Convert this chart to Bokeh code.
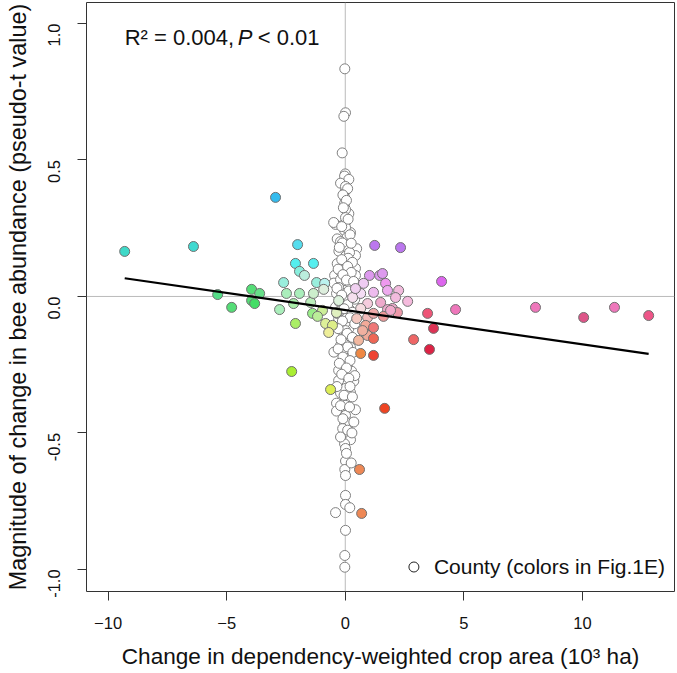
import math
from bokeh.plotting import figure
from bokeh.models import Range1d, FixedTicker, Span, Label, Legend, LegendItem, NumeralTickFormatter, ColumnDataSource
from bokeh.embed import file_html
from bokeh.resources import INLINE

# ---------------- data ----------------
# counties without a colour class (white points)
white_x = [-0.02, 0.01, -0.06, -0.13, 0.00, -0.03, 0.15, -0.20, 0.00, -0.03,
           -0.03, 0.15, -0.41, 0.01, -0.03, 0.22, -0.34, 0.08, 0.01, 0.01,
           0.48, 0.43, -0.27, 0.01, -0.34, 0.01, 0.43, -0.45, 0.01, 0.43,
           -0.06, -0.48, -0.20, 0.22, -0.06, -0.37, 0.31, 0.01, 0.36, -0.41,
           0.01, -0.20, 0.15, -0.06, -0.28, 0.31, -0.48, 0.15, -0.13, 0.08,
           0.27, -0.08, 0.36, -0.06, -0.20, 0.01, -0.37, -0.37, 0.43, 0.01,
           -0.03, 0.18, 0.36, -0.03, 0.01, 0.22, -0.03, 0.01, -0.02, 0.01,
           0.01, 0.01, 0.19, -0.41, 0.01, -0.02, -0.02, 0.01, -0.20, 0.22,
           0.01, -0.28, 0.01, -0.11, 0.01, 0.01, 0.01, 0.01, -0.20, 0.18,
           -0.20, 0.18, -0.28, 0.01, 0.18, -0.20, 0.01, 0.01, 0.22, -0.07,
           0.01, -0.28, 0.22, 0.01, -0.49,
           0.10, -0.10, 0.05, -0.08, 0.12, -0.15, 0.20, -0.12, 0.25, -0.25,
           0.12, -0.15, 0.30, -0.30, 0.10, 0.25, -0.10, 0.05, 0.35, -0.35,
           0.15, -0.15, 0.40, -0.25, 0.10, -0.05, 0.30, -0.35, 0.20, -0.12,
           0.40, -0.30, 0.08, 0.30, -0.18, 0.10, -0.30, 0.32, -0.10, 0.20,
           -0.25, 0.05, 0.40, -0.15, 0.15, -0.35, 0.20, -0.05, 0.30, -0.20,
           0.18, -0.10, 0.10, 0.28, -0.20, 0.05, 0.25]
white_y = [0.834, 0.673, 0.660, 0.526, 0.449, 0.441, 0.429, 0.415, 0.386, 0.363,
           0.340, 0.303, 0.264, 0.272, 0.242, 0.234, 0.211, 0.217, 0.190, 0.175,
           0.175, 0.150, 0.166, 0.147, 0.120, 0.126, 0.103, 0.077, 0.101, 0.077,
           0.052, 0.049, 0.062, 0.040, 0.022, 0.011, 0.007, -0.021, -0.033, -0.039,
           -0.070, -0.106, -0.118, -0.143, -0.081, -0.088, -0.204, -0.212, -0.241, -0.253,
           -0.274, -0.296, -0.310, -0.320, -0.354, -0.375, -0.391, -0.420, -0.415, -0.436,
           -0.464, -0.464, -0.460, -0.503, -0.521, -0.525, -0.540, -0.603, -0.634, -0.656,
           -0.729, -0.762, -0.774, -0.792, -0.857, -0.949, -0.992, -0.168, -0.179, -0.187,
           -0.337, -0.271, -0.399, -0.484, 0.403, 0.319, 0.289, 0.253, 0.201, 0.161,
           0.092, 0.073, 0.033, 0.000, -0.048, -0.051, -0.095, -0.125, -0.147, -0.198,
           -0.227, -0.308, -0.352, -0.557, 0.271,
           0.395, 0.372, 0.352, 0.325, 0.283, 0.256, 0.226, 0.196, 0.195, 0.180,
           0.140, 0.135, 0.125, 0.100, 0.110, 0.088, 0.080, 0.060, 0.055, 0.030,
           0.020, 0.005, -0.010, -0.020, -0.030, -0.045, -0.058, -0.062, -0.078, -0.090,
           -0.100, -0.118, -0.135, -0.150, -0.158, -0.185, -0.192, -0.205, -0.222, -0.235,
           -0.245, -0.262, -0.290, -0.285, -0.300, -0.330, -0.330, -0.362, -0.368, -0.400,
           -0.405, -0.448, -0.490, -0.500, -0.515, -0.575, -0.610]

# counties with a colour class (colours as in Fig. 1E)
colored_x = [-9.30, -6.40, -2.94, -2.01, -2.10, -1.93, -1.34, -1.21, -0.87, -2.60,
             -5.38, -4.79, -3.95, -3.61, -3.95, -3.82, -2.77, -2.48, -2.18, -1.93,
             -1.46, -1.38, -2.10, -2.26, -0.62, -1.34, -0.96, -0.83, -0.54, -0.70,
             -0.91, -1.72, -1.17, 1.24, 2.33, 4.06, 1.02, 1.45, 0.77, 1.70,
             1.57, 1.78, 0.65, 1.19, 2.25, 2.63, 2.12, 0.94, 1.49, 1.99,
             1.78, 2.20, 0.65, 0.94, 1.19, 1.61, 0.86, 0.94, 1.19, 1.19,
             0.65, 1.19, 2.88, 3.47, 3.72, 3.55, 4.65, 8.02, 10.05, 11.35,
             12.79, 1.66, 0.60, 0.69, 1.91, -0.28, 0.31, 0.43, -0.37, 0.48,
             0.56, 0.73]
colored_y = [0.165, 0.183, 0.363, 0.190, 0.121, 0.092, 0.121, 0.051, 0.048, 0.051,
             0.007, -0.040, 0.026, 0.011, -0.015, -0.026, -0.048, 0.011, -0.026, 0.011,
             -0.022, -0.062, -0.099, -0.275, -0.341, 0.011, -0.051, -0.099, -0.106, -0.132,
             0.026, 0.077, -0.073, 0.187, 0.179, 0.055, 0.077, 0.077, 0.048, 0.048,
             0.084, 0.022, 0.011, 0.015, 0.022, -0.018, -0.004, -0.026, -0.022, -0.044,
             -0.048, -0.059, -0.044, -0.077, -0.062, -0.073, -0.106, -0.143, -0.114, -0.154,
             -0.209, -0.216, -0.158, -0.062, -0.117, -0.194, -0.048, -0.040, -0.077, -0.040,
             -0.070, -0.410, -0.634, -0.795, -0.051, -0.015, -0.004, 0.029, -0.059, -0.081,
             -0.161, -0.125]
colored_fill = ["#3fd9c8", "#40d9d0", "#33bbee", "#55ddee", "#55eeee", "#88eedd", "#55eeee", "#99eedd", "#bbf2ee", "#99eedd",
                "#55dd88", "#55dd77", "#55dd77", "#66dd88", "#55dd77", "#44dd66", "#aaeebb", "#aaeebb", "#aaeeaa", "#aaeebb",
                "#bbeebb", "#99ee88", "#aaee66", "#aaee33", "#ddee55", "#cceecc", "#ccee99", "#ddf099", "#ddee88", "#eeee99",
                "#ddeedd", "#bbeedd", "#bbee99", "#bb77ee", "#bb77ee", "#dd66ee", "#dd99ee", "#dd99ee", "#eeccf2", "#ee99ee",
                "#dd99ee", "#eeaaee", "#f5ddf5", "#eebbee", "#f2bbdd", "#f5bbdd", "#f2bbdd", "#f5ccdd", "#eeaacc", "#eeaacc",
                "#eeaacc", "#ee99aa", "#f5dde0", "#f2bbbb", "#eeaaaa", "#ee9999", "#f2aa99", "#f0aa99", "#ee7777", "#ee6655",
                "#ee8844", "#ee4433", "#ee6666", "#ee5577", "#dd3355", "#dd2244", "#ee77bb", "#ee77bb", "#dd5588", "#ee77bb",
                "#ee5588", "#ee4422", "#ee8855", "#ee8855", "#f2aacc", "#ddf2dd", "#f5e0ee", "#f0d0f0", "#e0f0c0", "#f5c8c0",
                "#f2b8a0", "#f0b0a0"]

# linear fit reported in the figure
fit_intercept = -0.050
fit_slope = -0.01255

x_ticks = [-10, -5, 0, 5, 10]
y_ticks = [-1.0, -0.5, 0.0, 0.5, 1.0]

x_title = "Change in dependency-weighted crop area (10\u00b3 ha)"
y_title = "Magnitude of change in bee abundance (pseudo-t value)"
stat_part1 = "R\u00b2 = 0.004,"
stat_part2 = "P"
stat_part3 = "< 0.01"
legend_label = "County (colors in Fig.1E)"

FONT = "Liberation Sans"

# ---------------- figure ----------------
p = figure(width=677, height=673, output_backend="svg", toolbar_location=None,
           x_range=Range1d(-10.91, 13.88), y_range=Range1d(-1.081, 1.077),
           min_border_left=86, min_border_right=3, min_border_top=2, min_border_bottom=82)
p.xgrid.visible = False
p.ygrid.visible = False
p.outline_line_color = "#333333"
p.outline_line_width = 1
p.background_fill_color = "white"

for ax in (p.xaxis[0], p.yaxis[0]):
    ax.axis_line_color = None
    ax.major_tick_line_color = "#333333"
    ax.major_tick_out = 9
    ax.major_tick_in = 0
    ax.minor_tick_line_color = None
    ax.major_label_text_font = FONT
    ax.major_label_text_font_size = "16.5px"
    ax.major_label_text_color = "#111111"
    ax.axis_label_text_font = FONT
    ax.axis_label_text_font_style = "normal"
    ax.axis_label_text_color = "#111111"

p.xaxis[0].axis_label_text_font_size = "22.6px"
p.yaxis[0].axis_label_text_font_size = "23.4px"
p.xaxis[0].ticker = FixedTicker(ticks=x_ticks)
p.yaxis[0].ticker = FixedTicker(ticks=y_ticks)
p.yaxis[0].formatter = NumeralTickFormatter(format="0.0")
p.yaxis[0].major_label_orientation = math.pi / 2
p.xaxis[0].major_label_standoff = 16
p.yaxis[0].major_label_standoff = 23
p.xaxis[0].axis_label_standoff = 12
p.yaxis[0].axis_label_standoff = 9
p.xaxis[0].axis_label = x_title
p.yaxis[0].axis_label = y_title

# reference lines at zero
p.add_layout(Span(location=0, dimension="height", line_color="#bbbbbb", line_width=1, level="underlay"))
p.add_layout(Span(location=0, dimension="width", line_color="#bbbbbb", line_width=1, level="underlay"))

# points
p.scatter(x=white_x, y=white_y, size=10, fill_color="white", line_color="#808080", line_width=1)
src_c = ColumnDataSource(dict(x=colored_x, y=colored_y, c=colored_fill))
p.scatter(x="x", y="y", source=src_c, size=10, fill_color="c", line_color="#707070", line_width=1)

# regression line
all_x = white_x + colored_x
x0, x1 = min(all_x), max(all_x)
p.line(x=[x0, x1], y=[fit_intercept + fit_slope * x0, fit_intercept + fit_slope * x1],
       line_color="black", line_width=2.2)

# statistics text
lab_x = x0
lab_y = 0.950
p.add_layout(Label(x=lab_x, y=lab_y, text=stat_part1, text_font=FONT, text_font_size="22px",
                   text_color="#111111", text_baseline="alphabetic"))
p.add_layout(Label(x=lab_x, y=lab_y, x_offset=113, text=stat_part2, text_font=FONT, text_font_size="22px",
                   text_font_style="italic", text_color="#111111", text_baseline="alphabetic"))
p.add_layout(Label(x=lab_x, y=lab_y, x_offset=133, text=stat_part3, text_font=FONT, text_font_size="22px",
                   text_color="#111111", text_baseline="alphabetic"))

# legend (marker only, no data drawn)
leg_r = p.scatter(x=[float("nan")], y=[float("nan")], size=10, fill_color="white",
                  line_color="#222222", line_width=1)
legend = Legend(items=[LegendItem(label=legend_label, renderers=[leg_r])],
                location="bottom_right", border_line_color=None, background_fill_alpha=0,
                label_text_font=FONT, label_text_font_size="21px", label_text_color="#111111",
                glyph_width=25, glyph_height=31, label_standoff=8, padding=5, margin=9)
p.add_layout(legend)

open("out.html", "w").write(file_html(p, INLINE))
